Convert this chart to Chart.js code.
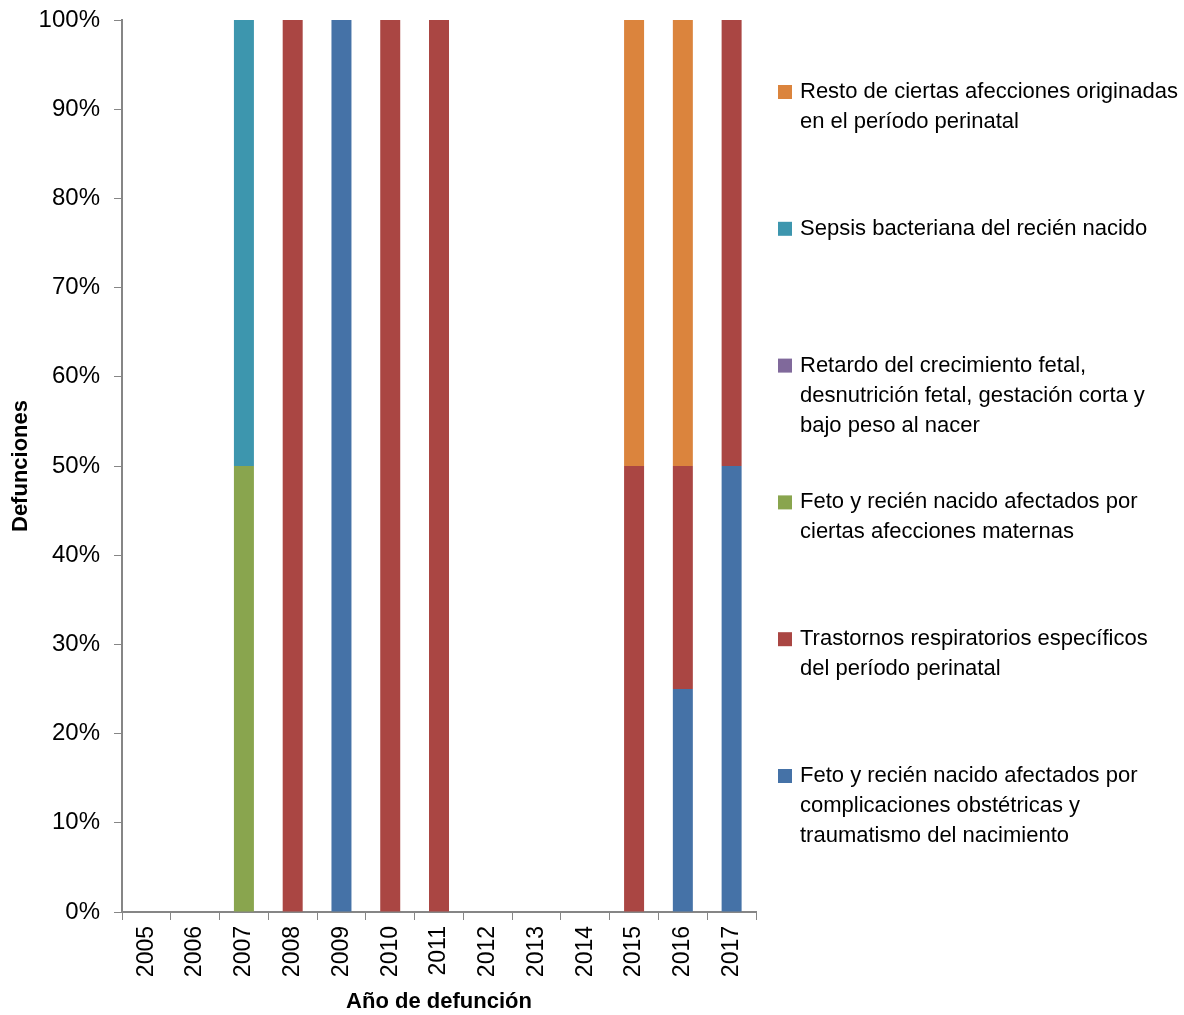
<!DOCTYPE html>
<html lang="es">
<head>
    <meta charset="UTF-8">
    <title>Defunciones por año</title>
    <style>
        html, body { margin: 0; padding: 0; background: #fff; }
        #wrap { width: 1184px; height: 1015px; position: relative; }
    </style>
</head>
<body>
    <div id="wrap"><canvas id="grafico" width="1184" height="1015"></canvas></div>

    <script src="https://cdn.jsdelivr.net/npm/chart.js"></script>
    <script>
        // Datos
        const anios = ['2005', '2006', '2007', '2008', '2009', '2010', '2011', '2012', '2013', '2014', '2015', '2016', '2017'];
        const nombresSeries = [
            'Feto y recién nacido afectados por\ncomplicaciones obstétricas y\ntraumatismo del nacimiento',
            'Trastornos respiratorios específicos\ndel período perinatal',
            'Feto y recién nacido afectados por\nciertas afecciones maternas',
            'Retardo del crecimiento fetal,\ndesnutrición fetal, gestación corta y\nbajo peso al nacer',
            'Sepsis bacteriana del recién nacido',
            'Resto de ciertas afecciones originadas\nen el período perinatal'
        ];
        const complicaciones = [0, 0, 0, 0, 100, 0, 0, 0, 0, 0, 0, 25, 50];
        const respiratorios  = [0, 0, 0, 100, 0, 100, 100, 0, 0, 0, 50, 25, 50];
        const maternas       = [0, 0, 50, 0, 0, 0, 0, 0, 0, 0, 0, 0, 0];
        const retardo        = [0, 0, 0, 0, 0, 0, 0, 0, 0, 0, 0, 0, 0];
        const sepsis         = [0, 0, 50, 0, 0, 0, 0, 0, 0, 0, 0, 0, 0];
        const resto          = [0, 0, 0, 0, 0, 0, 0, 0, 0, 0, 50, 50, 0];
        const colores = ['#4572A7', '#AA4643', '#89A54E', '#80699B', '#3D96AE', '#DB843D'];

        const FUENTE = "'Liberation Sans Narrow', 'Arial Narrow', 'Liberation Sans', sans-serif";
        const series = [complicaciones, respiratorios, maternas, retardo, sepsis, resto];

        // Leyenda dibujada a la derecha (orden inverso, como en el original)
        const leyendaDerecha = {
            id: 'leyendaDerecha',
            afterDraw(chart) {
                const ctx = chart.ctx;
                ctx.save();
                ctx.font = '22px ' + FUENTE;
                ctx.textBaseline = 'middle';
                ctx.fillStyle = '#000';
                const n = chart.data.datasets.length;
                for (let k = 0; k < n; k++) {
                    const i = n - 1 - k;
                    const ds = chart.data.datasets[i];
                    const y0 = 92 + k * 136.8;
                    ctx.fillStyle = ds.backgroundColor;
                    ctx.fillRect(778, y0 - 7, 14, 14);
                    ctx.fillStyle = '#000';
                    ds.label.split('\n').forEach((linea, j) => {
                        ctx.fillText(linea, 800, y0 + j * 30);
                    });
                }
                ctx.restore();
            }
        };

        new Chart(document.getElementById('grafico'), {
            type: 'bar',
            data: {
                labels: anios,
                datasets: series.map((valores, i) => ({
                    label: nombresSeries[i],
                    data: valores,
                    backgroundColor: colores[i],
                    borderWidth: 0,
                    barPercentage: 0.41,
                    categoryPercentage: 1
                }))
            },
            options: {
                responsive: false,
                animation: false,
                layout: { padding: { left: 0, right: 428, top: 20, bottom: 0 } },
                plugins: {
                    legend: { display: false },
                    tooltip: { enabled: false }
                },
                scales: {
                    x: {
                        stacked: true,
                        afterFit(scale) { scale.height = 103; },
                        grid: { drawOnChartArea: false, tickLength: 8, color: '#868686', offset: true },
                        border: { color: '#868686', width: 2 },
                        ticks: {
                            color: '#000',
                            font: { family: FUENTE, size: 23 },
                            minRotation: 90,
                            maxRotation: 90,
                            padding: 6
                        },
                        title: {
                            display: true,
                            text: 'Año de defunción',
                            color: '#000',
                            font: { family: FUENTE, size: 22, weight: 'bold' },
                            padding: { top: 0, bottom: 0 }
                        }
                    },
                    y: {
                        stacked: true,
                        min: 0,
                        max: 100,
                        afterFit(scale) {
                            scale.width = 122;
                            scale.paddingTop = 0;
                            scale.paddingBottom = 0;
                        },
                        grid: { drawOnChartArea: false, tickLength: 8, color: '#868686' },
                        border: { color: '#868686', width: 2 },
                        ticks: {
                            stepSize: 10,
                            color: '#000',
                            font: { family: FUENTE, size: 24 },
                            padding: 14,
                            callback: v => v + '%'
                        },
                        title: {
                            display: true,
                            text: 'Defunciones',
                            color: '#000',
                            font: { family: FUENTE, size: 22, weight: 'bold' },
                            padding: { top: 8, bottom: 0 }
                        }
                    }
                }
            },
            plugins: [leyendaDerecha]
        });
    </script>
</body>
</html>
